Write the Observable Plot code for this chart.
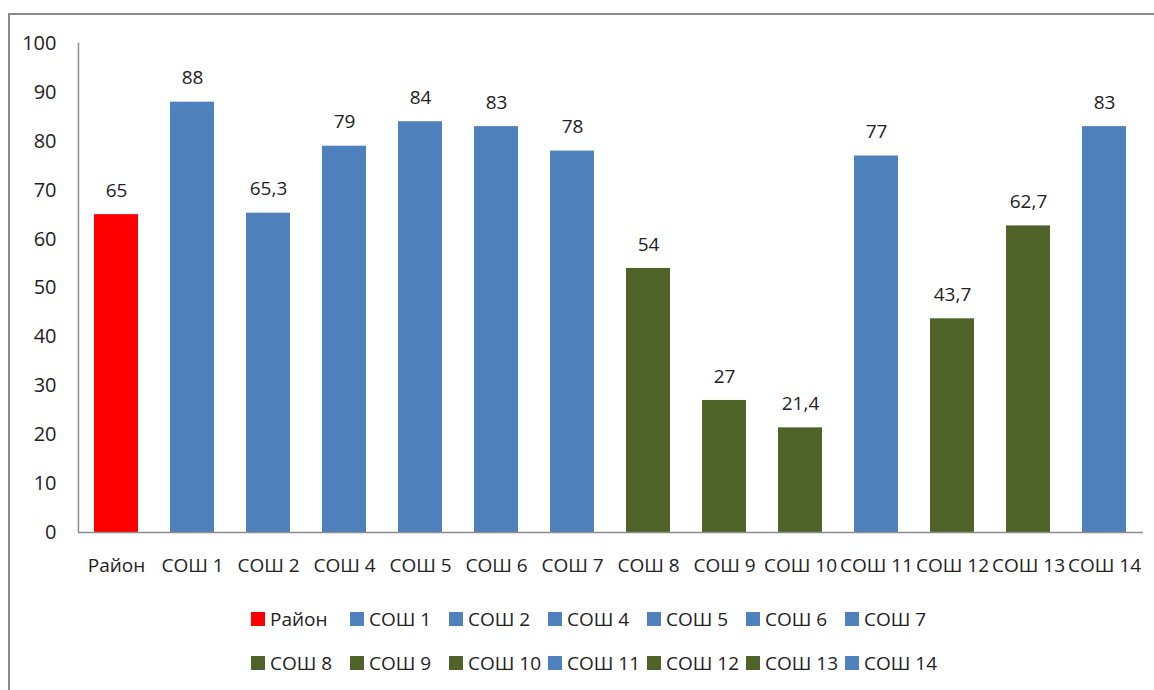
<!DOCTYPE html>
<html>
<head>
<meta charset="utf-8">
<script src="https://cdn.jsdelivr.net/npm/d3@7"></script>
<script src="https://cdn.jsdelivr.net/npm/@observablehq/plot@0.6"></script>
<style>
  html, body { margin: 0; padding: 0; background: #fff; width: 1154px; height: 690px; overflow: hidden; }
  #frame { position: absolute; left: 8px; top: 13px; width: 1300px; height: 800px; border: 2px solid #8c8c8c; box-sizing: border-box; }
  #chart { position: absolute; left: 0; top: 0; }
  #legend { position: absolute; left: 0; top: 0; font-family: "Open Sans", sans-serif; font-size: 19px; color: #222; }
  .item { position: absolute; display: flex; align-items: center; height: 24px; white-space: nowrap; }
  .sw { width: 14px; height: 14px; margin-right: 5px; }
</style>
</head>
<body>
<div id="frame"></div>
<div id="chart"></div>
<div id="legend"></div>
<script>
const categories = ["Район","СОШ 1","СОШ 2","СОШ 4","СОШ 5","СОШ 6","СОШ 7","СОШ 8","СОШ 9","СОШ 10","СОШ 11","СОШ 12","СОШ 13","СОШ 14"];
const values = [65, 88, 65.3, 79, 84, 83, 78, 54, 27, 21.4, 77, 43.7, 62.7, 83];
const groups = ["district","above","above","above","above","above","above","below","below","below","above","below","below","above"];
const yTicks = [0,10,20,30,40,50,60,70,80,90,100];

const groupColor = {district: "#ff0000", above: "#4f81bd", below: "#4f6228"};
const data = categories.map((c, i) => ({cat: c, value: values[i], group: groups[i]}));
const fmt = v => String(v).replace(".", ",");

const W = 1154, ML = 78, MR = 11;
const step = (W - ML - MR) / categories.length;
const font = '"Open Sans", sans-serif';
const chart = Plot.plot({
  width: W,
  height: 580,
  marginLeft: ML,
  marginRight: MR,
  marginTop: 43,
  marginBottom: 48,
  style: {fontFamily: font, fontSize: "19px", color: "#222", background: "transparent"},
  x: {domain: categories, paddingInner: 0.42, paddingOuter: 0.21, label: null},
  y: {domain: [0, 100], label: null},
  marks: [
    Plot.barY(data, {x: "cat", y: "value", fill: d => groupColor[d.group]}),
    Plot.text(data, {x: "cat", y: "value", text: d => fmt(d.value), dy: -24, fontSize: 19, fill: "#222"}),
    Plot.axisX({tickSize: 0, tickPadding: 26, fontSize: 19}),
    Plot.axisY({ticks: yTicks, tickSize: 0, tickPadding: 22, fontSize: 20}),
    Plot.ruleY([0], {stroke: "#8c8c8c", strokeWidth: 1.5}),
    Plot.ruleX([categories[0]], {y1: 0, y2: 100, dx: -step / 2, stroke: "#8c8c8c", strokeWidth: 1.5})
  ]
});
document.getElementById("chart").appendChild(chart);

// legend
const legend = document.getElementById("legend");
const perRow = 7;
data.forEach((d, i) => {
  const row = Math.floor(i / perRow), col = i % perRow;
  const el = document.createElement("div");
  el.className = "item";
  el.style.left = (251 + col * 99) + "px";
  el.style.top = (607 + row * 44) + "px";
  const sw = document.createElement("div");
  sw.className = "sw";
  sw.style.background = groupColor[d.group];
  el.appendChild(sw);
  el.appendChild(document.createTextNode(d.cat));
  legend.appendChild(el);
});
</script>
</body>
</html>
